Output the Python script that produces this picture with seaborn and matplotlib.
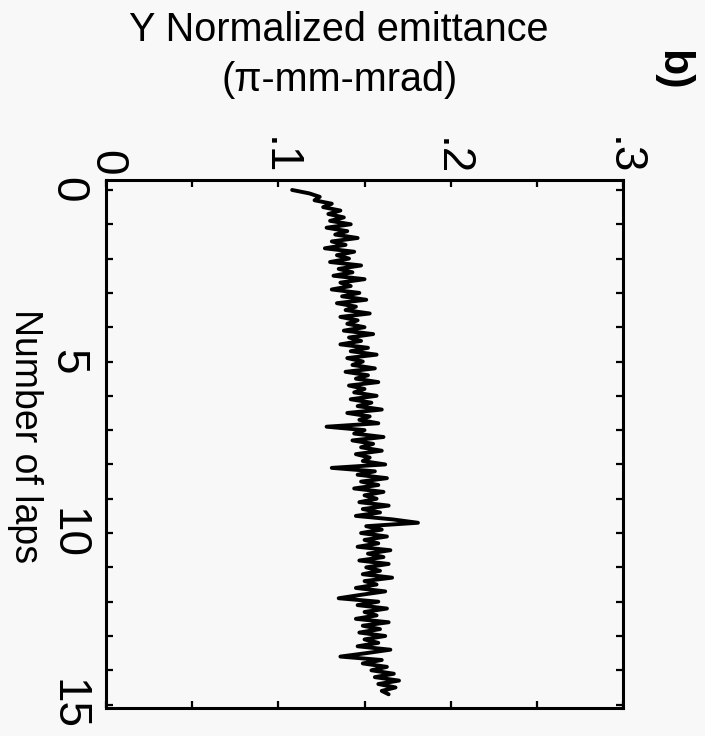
import numpy as np
import pandas as pd
import seaborn as sns
import matplotlib.pyplot as plt
from matplotlib.ticker import MultipleLocator, FixedLocator

# emittance, one value every 0.1 lap (0 .. 14.7)
emit_lap0 = [0.108, 0.118, 0.124, 0.121, 0.131, 0.126, 0.136, 0.129, 0.138, 0.130]
emit_lap1 = [0.142, 0.128, 0.140, 0.133, 0.146, 0.131, 0.139, 0.127, 0.144, 0.134]
emit_lap2 = [0.141, 0.130, 0.148, 0.135, 0.143, 0.132, 0.150, 0.136, 0.142, 0.131]
emit_lap3 = [0.147, 0.137, 0.151, 0.134, 0.145, 0.139, 0.153, 0.136, 0.146, 0.140]
emit_lap4 = [0.150, 0.138, 0.155, 0.141, 0.148, 0.136, 0.152, 0.142, 0.157, 0.140]
emit_lap5 = [0.149, 0.143, 0.156, 0.139, 0.152, 0.145, 0.158, 0.141, 0.150, 0.144]
emit_lap6 = [0.157, 0.142, 0.154, 0.146, 0.160, 0.140, 0.153, 0.147, 0.158, 0.128]
emit_lap7 = [0.150, 0.144, 0.161, 0.143, 0.155, 0.148, 0.160, 0.145, 0.153, 0.149]
emit_lap8 = [0.162, 0.131, 0.156, 0.146, 0.163, 0.148, 0.158, 0.144, 0.161, 0.150]
emit_lap9 = [0.157, 0.147, 0.164, 0.149, 0.159, 0.145, 0.166, 0.181, 0.151, 0.160]
emit_lap10 = [0.148, 0.163, 0.150, 0.158, 0.146, 0.165, 0.152, 0.161, 0.147, 0.164]
emit_lap11 = [0.151, 0.159, 0.149, 0.166, 0.150, 0.157, 0.145, 0.162, 0.148, 0.135]
emit_lap12 = [0.158, 0.146, 0.163, 0.150, 0.157, 0.145, 0.164, 0.149, 0.159, 0.147]
emit_lap13 = [0.162, 0.150, 0.158, 0.146, 0.165, 0.151, 0.136, 0.160, 0.149, 0.163]
emit_lap14 = [0.154, 0.167, 0.156, 0.170, 0.158, 0.168, 0.160, 0.164]

emittance = (emit_lap0 + emit_lap1 + emit_lap2 + emit_lap3 + emit_lap4
             + emit_lap5 + emit_lap6 + emit_lap7 + emit_lap8 + emit_lap9
             + emit_lap10 + emit_lap11 + emit_lap12 + emit_lap13 + emit_lap14)
# sample grid along the lap axis
laps = np.round(np.arange(len(emittance)) * 0.1, 1)

emit_ticks = [0, 0.1, 0.2, 0.3]
emit_labels = ["0", ".1", ".2", ".3"]
lap_ticks = [0, 5, 10, 15]
lap_labels = ["0", "5", "10", "15"]

df = pd.DataFrame({"laps": laps, "emittance": emittance})

sns.set_theme(style="ticks", rc={
    "text.color": "black",
    "axes.labelcolor": "black",
    "xtick.color": "black",
    "ytick.color": "black",
    "axes.edgecolor": "black",
})
plt.rcParams["font.family"] = ["Liberation Sans", "DejaVu Sans"]
bg = "#f8f8f8"

fig = plt.figure(figsize=(7.05, 7.36), dpi=100, facecolor=bg)
ax = fig.add_axes([0.1504, 0.038, 0.7333, 0.7174], facecolor=bg)

sns.lineplot(data=df, x="emittance", y="laps", orient="y", estimator=None,
             color="black", linewidth=2.8, ax=ax)

ax.set_xlim(0, 0.3)
ax.set_ylim(15.1, -0.29)

ax.xaxis.set_major_locator(FixedLocator(emit_ticks))
ax.set_xticklabels(emit_labels)
ax.xaxis.set_minor_locator(MultipleLocator(0.05))
ax.yaxis.set_major_locator(FixedLocator(lap_ticks))
ax.set_yticklabels(lap_labels)
ax.yaxis.set_minor_locator(MultipleLocator(1))

for s in ax.spines.values():
    s.set_visible(True)
    s.set_linewidth(2.2)
    s.set_color("black")

ax.tick_params(which="both", direction="in", length=5, width=1.6,
               top=True, bottom=True, left=True, right=True, color="black")
ax.tick_params(axis="x", labeltop=True, labelbottom=False, labelsize=33,
               labelrotation=-90, pad=3)
ax.tick_params(axis="y", labelleft=True, labelright=False, labelsize=33,
               labelrotation=-90, pad=12)
for lab in ax.get_yticklabels():
    lab.set_va("center")

ax.set(xlabel=None, ylabel=None)

fig.text(339 / 705, 1 - 30 / 736, "Y Normalized emittance", fontsize=28.5,
         ha="center", va="center", color="black")
fig.text(340 / 705, 1 - 80 / 736, "(π-mm-mrad)", fontsize=28.5,
         ha="center", va="center", color="black")
fig.text(25 / 705, 1 - 436 / 736, "Number of laps", fontsize=27,
         rotation=-90, ha="center", va="center", color="black")
fig.text(672 / 705, 1 - 70 / 736, "b)", fontsize=31, fontweight="bold",
         rotation=-90, ha="center", va="center", color="black")

fig.savefig("out.png", dpi=100, facecolor=bg)
